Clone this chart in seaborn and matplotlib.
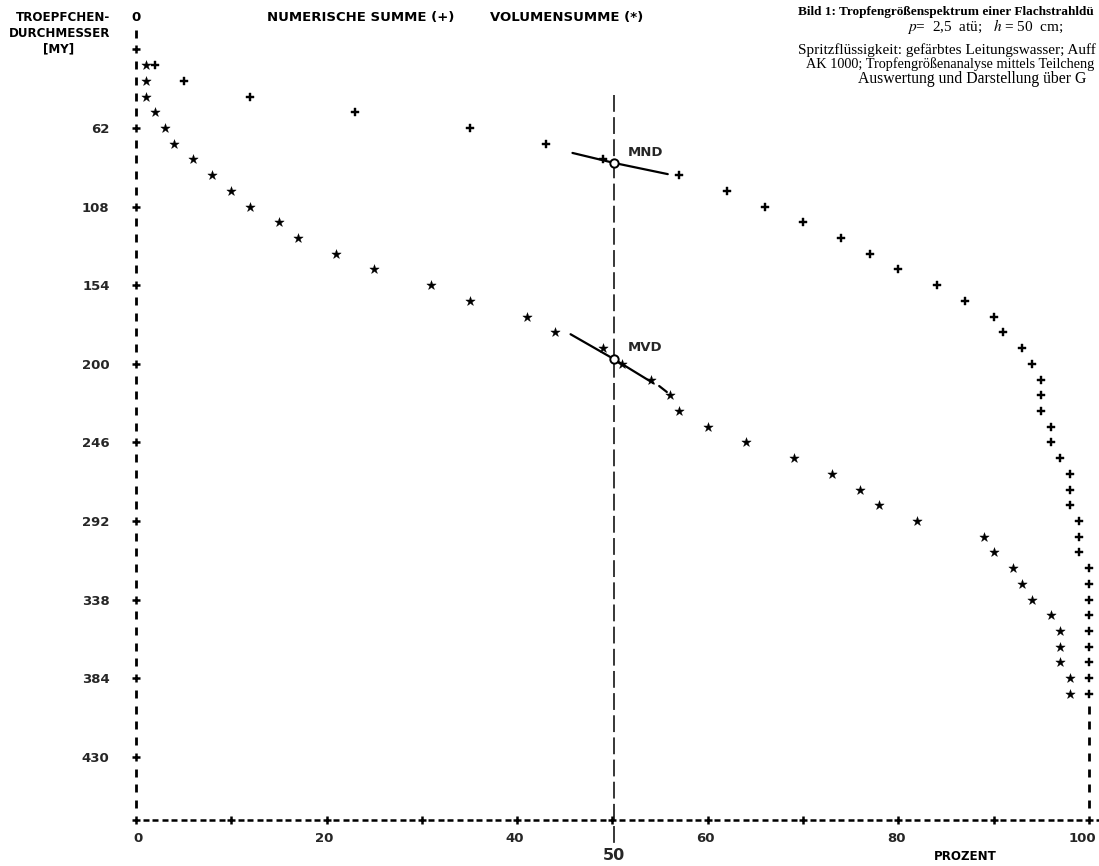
import matplotlib
matplotlib.use("Agg")
import numpy as np
import pandas as pd
import matplotlib.pyplot as plt
import matplotlib.transforms as mtransforms
import seaborn as sns

# Tropfendurchmesser der Druckzeilen [my], Zeilenabstand 9,2 my
durchmesser = [25.2, 34.4, 43.6, 52.8, 62.0, 71.2, 80.4, 89.6, 98.8, 108.0,
               117.2, 126.4, 135.6, 144.8, 154.0, 163.2, 172.4, 181.6, 190.8, 200.0,
               209.2, 218.4, 227.6, 236.8, 246.0, 255.2, 264.4, 273.6, 282.8, 292.0,
               301.2, 310.4, 319.6, 328.8, 338.0, 347.2, 356.4, 365.6, 374.8, 384.0,
               393.2]

# numerische Summe (+) in Prozent
numerisch = [2, 5, 12, 23, 35, 43, 49, 57, 62, 66,
             70, 74, 77, 80, 84, 87, 90, 91, 93, 94,
             95, 95, 95, 96, 96, 97, 98, 98, 98, 99,
             99, 99, 100, 100, 100, 100, 100, 100, 100, 100,
             100]

# Volumensumme (*) in Prozent
volumen = [1, 1, 1, 2, 3, 4, 6, 8, 10, 12,
           15, 17, 21, 25, 31, 35, 41, 44, 49, 51,
           54, 56, 57, 60, 64, 69, 73, 76, 78, 82,
           89, 90, 92, 93, 94, 96, 97, 97, 97, 98,
           98]

y_ticks = [62, 108, 154, 200, 246, 292, 338, 384, 430]
x_ticks = [0, 20, 40, 60, 80, 100]

# Tangenten an MND / MVD (Prozent, Durchmesser)
mnd_x = [45.8, 50.2, 55.8]
mnd_d = [76.6, 82.5, 89.0]
mvd_x = [45.6, 50.2, 54.3]
mvd_d = [182.7, 197.4, 211.4]
mvd_rest_x = [54.9, 55.7]
mvd_rest_d = [213.0, 216.5]

sns.set_theme(style="white")
plt.rcParams["font.family"] = ["DejaVu Sans"]
plt.rcParams["mathtext.fontset"] = "stix"

fig = plt.figure(figsize=(10.99, 8.66), dpi=100)
ax = fig.add_axes([0, 0, 1, 1])
ax.set_facecolor("white")
ax.set_xlim(-14.27, 101.05)
ax.set_ylim(493.9, -12.9)

# Druckerachsen (Zeichen wie auf dem Schnelldrucker)
zeilen = -2.4 + 9.2 * np.arange(52)
achse_d = zeilen[-1]
tick_zeilen = zeilen[2:48:5]
i_zeilen = np.setdiff1d(zeilen[1:51], tick_zeilen)
mk = dict(ls="none", color="black", zorder=2)
ax.plot(np.zeros(len(i_zeilen)), i_zeilen, marker="|", ms=6, mew=2, **mk)
ax.plot(np.zeros(len(tick_zeilen)), tick_zeilen, marker="+", ms=6, mew=1.8, **mk)
spalten = np.arange(0, 102)
striche = spalten[spalten % 10 != 0]
ax.plot(striche, np.full(len(striche), achse_d), marker="_", ms=4.5, mew=1.8, **mk)
kreuze = spalten[spalten % 10 == 0]
ax.plot(kreuze, np.full(len(kreuze), achse_d), marker="+", ms=6, mew=1.8, **mk)
ax.plot(np.full(7, 100), zeilen[44:51], marker="|", ms=6, mew=2, **mk)

druck = dict(family="DejaVu Sans", weight="bold", fontsize=9.5, color="black")
klein = dict(druck, fontsize=8.6)
ax.text(0, zeilen[0], "0", ha="center", va="center", **druck)
ax.text(-2.73, zeilen[0], "TROEPFCHEN-", ha="right", va="center", **klein)
ax.text(-2.73, zeilen[1], "DURCHMESSER", ha="right", va="center", **klein)
ax.text(-8.1, zeilen[2], "[MY]", ha="center", va="center", **klein)
ax.text(13.75, zeilen[0], "NUMERISCHE SUMME (+)", ha="left", va="center", **druck)
ax.text(37.1, zeilen[0], "VOLUMENSUMME (*)", ha="left", va="center", **druck)
ax.text(87.0, 488.6, "PROZENT", ha="center", va="center", **klein)

# 50-%-Linie
ax.plot([50.2, 50.2], [42.7, 482.0], color="black", lw=1.1, ls=(0, (11, 3.5)), zorder=1)
ax.text(50.2, 487.5, "50", ha="center", va="center", family="DejaVu Sans",
        weight="bold", fontsize=11.5)

# Messpunkte
df = pd.DataFrame({"durchmesser": durchmesser, "numerisch": numerisch, "volumen": volumen})
sns.scatterplot(data=df, x="numerisch", y="durchmesser", marker="P", s=36,
                color="black", edgecolor="black", linewidth=0.3, legend=False, ax=ax, zorder=3)
sns.scatterplot(data=df, x="volumen", y="durchmesser", marker="*", s=50,
                color="black", edgecolor="black", linewidth=0.3, legend=False, ax=ax, zorder=3)

# MND / MVD
ax.plot(mnd_x, mnd_d, color="black", lw=1.6, zorder=2)
ax.plot(mvd_x, mvd_d, color="black", lw=1.6, zorder=2)
ax.plot(mvd_rest_x, mvd_rest_d, color="black", lw=1.6, zorder=2)
ax.plot([mnd_x[1]], [mnd_d[1]], marker="o", ms=6, mfc="white", mec="black", mew=1.4, zorder=4)
ax.plot([mvd_x[1]], [mvd_d[1]], marker="o", ms=6, mfc="white", mec="black", mew=1.4, zorder=4)
ax.text(51.6, 76.6, "MND", ha="left", va="center", family="DejaVu Sans", weight="bold", fontsize=9.5)
ax.text(51.6, 190.2, "MVD", ha="left", va="center", family="DejaVu Sans", weight="bold", fontsize=9.5)

# Achsbeschriftung
for s in ax.spines.values():
    s.set_visible(False)
ax.spines["left"].set_position(("data", 0))
ax.spines["bottom"].set_position(("data", achse_d))
ax.set_yticks(y_ticks)
ax.set_yticklabels([str(v) for v in y_ticks])
ax.set_xticks(x_ticks)
ax.set_xticklabels([str(v) for v in x_ticks])
ax.tick_params(axis="y", length=0, pad=19)
ax.tick_params(axis="x", length=0, pad=9)
versatz = mtransforms.ScaledTranslation(7 / 100, 0, fig.dpi_scale_trans)
for lab in ax.get_xticklabels() + ax.get_yticklabels():
    lab.set_fontfamily("DejaVu Sans")
    lab.set_fontweight("bold")
    lab.set_fontsize(9.5)
for lab in ax.get_xticklabels():
    lab.set_horizontalalignment("right")
    lab.set_transform(lab.get_transform() + versatz)
ax.set_xlabel("")
ax.set_ylabel("")
ax.grid(False)

# Bildunterschrift oben rechts
serif = dict(family="Liberation Serif", color="black", va="center", ha="left")
fig.text(798 / 1099, 1 - 12 / 866, "Bild 1: Tropfengrößenspektrum einer Flachstrahldü",
         weight="bold", fontsize=9.55, **serif)
fig.text(907 / 1099, 1 - 27 / 866, r"$p$=  2,5  atü;   $h$ = 50  cm;", fontsize=11, **serif)
fig.text(798 / 1099, 1 - 50 / 866, "Spritzflüssigkeit: gefärbtes Leitungswasser; Auff",
         fontsize=11, **serif)
fig.text(806 / 1099, 1 - 64 / 866, "AK 1000; Tropfengrößenanalyse mittels Teilcheng",
         fontsize=10.3, **serif)
fig.text(858 / 1099, 1 - 79 / 866, "Auswertung und Darstellung über G",
         fontsize=11.3, **serif)

fig.savefig("out.png", dpi=100)
